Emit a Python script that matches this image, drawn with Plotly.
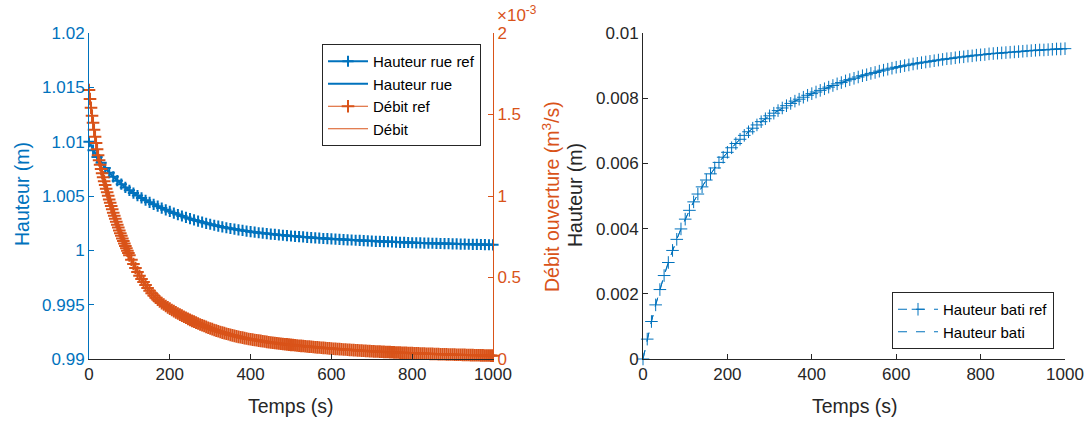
import plotly.graph_objects as go

# ---------------- data ----------------
temps = list(range(0, 1001, 10))  # s

hauteur_rue = [
    1.01000, 1.00922, 1.00860, 1.00806, 1.00758, 1.00715, 1.00676, 1.00641, 1.00609, 1.00579,
    1.00552, 1.00527, 1.00504, 1.00482, 1.00461, 1.00442, 1.00423, 1.00406, 1.00389, 1.00373,
    1.00358, 1.00343, 1.00329, 1.00316, 1.00303, 1.00291, 1.00280, 1.00269, 1.00259, 1.00249,
    1.00240, 1.00231, 1.00223, 1.00215, 1.00208, 1.00201, 1.00195, 1.00189, 1.00183, 1.00177,
    1.00172, 1.00167, 1.00162, 1.00158, 1.00154, 1.00150, 1.00146, 1.00142, 1.00139, 1.00135,
    1.00132, 1.00129, 1.00126, 1.00123, 1.00120, 1.00117, 1.00114, 1.00112, 1.00109, 1.00107,
    1.00105, 1.00103, 1.00101, 1.00099, 1.00097, 1.00095, 1.00093, 1.00091, 1.00089, 1.00087,
    1.00085, 1.00083, 1.00082, 1.00080, 1.00079, 1.00077, 1.00076, 1.00074, 1.00073, 1.00072,
    1.00070, 1.00069, 1.00068, 1.00067, 1.00066, 1.00065, 1.00064, 1.00063, 1.00062, 1.00061,
    1.00060, 1.00059, 1.00058, 1.00057, 1.00056, 1.000555, 1.000545, 1.000535, 1.000525, 1.000515,
    1.000505,
]

hauteur_bati = [
    0.00000, 0.00061, 0.00115, 0.00166, 0.00213, 0.00256, 0.00296, 0.00333, 0.00367, 0.00399,
    0.00429, 0.00456, 0.00482, 0.00506, 0.00528, 0.00549, 0.00568, 0.00586, 0.00603, 0.00619,
    0.00634, 0.00648, 0.00661, 0.00674, 0.00686, 0.00697, 0.00708, 0.00718, 0.00728, 0.00737,
    0.00746, 0.00754, 0.00762, 0.00770, 0.00777, 0.00784, 0.00791, 0.00797, 0.00803, 0.00809,
    0.00814, 0.00819, 0.00824, 0.00829, 0.00834, 0.00839, 0.00844, 0.00848, 0.00853, 0.00857,
    0.00861, 0.00865, 0.00869, 0.00872, 0.00876, 0.00879, 0.00883, 0.00886, 0.00889, 0.00892,
    0.00895, 0.00897, 0.00900, 0.00902, 0.00905, 0.00907, 0.00909, 0.00911, 0.00913, 0.00915,
    0.00917, 0.00919, 0.00921, 0.00922, 0.00924, 0.00926, 0.00927, 0.00929, 0.00930, 0.00932,
    0.00933, 0.00934, 0.00936, 0.00937, 0.00938, 0.00939, 0.00940, 0.00941, 0.00942, 0.00943,
    0.00944, 0.00945, 0.00946, 0.00947, 0.00948, 0.00948, 0.00949, 0.00950, 0.00951, 0.00951,
    0.00952,
]

# debit sampled every 2.5 s up to 97.5 s, then every 5 s
temps_debit = [2.5 * i for i in range(40)] + [100 + 5 * i for i in range(181)]
debit_e3 = [  # x 1e-3 m3/s
    1.650, 1.595, 1.541, 1.493, 1.449, 1.406, 1.364, 1.325, 1.287, 1.250,
    1.219, 1.191, 1.165, 1.140, 1.115, 1.091, 1.068, 1.045, 1.023, 1.001,
    0.979, 0.958, 0.938, 0.918, 0.898, 0.879, 0.860, 0.842, 0.824, 0.806,
    0.789, 0.772, 0.756, 0.740, 0.724, 0.708, 0.693, 0.679, 0.664, 0.650,
    0.636, 0.609, 0.583, 0.558, 0.534, 0.511, 0.491, 0.472, 0.454, 0.436,
    0.419, 0.403, 0.389, 0.376, 0.364, 0.353, 0.343, 0.334, 0.325, 0.317,
    0.309, 0.301, 0.294, 0.286, 0.279, 0.272, 0.266, 0.259, 0.253, 0.246,
    0.240, 0.234, 0.229, 0.223, 0.218, 0.212, 0.207, 0.202, 0.197, 0.192,
    0.187, 0.183, 0.178, 0.174, 0.170, 0.166, 0.162, 0.159, 0.155, 0.152,
    0.148, 0.145, 0.142, 0.139, 0.136, 0.133, 0.131, 0.128, 0.126, 0.123,
    0.121, 0.119, 0.117, 0.115, 0.113, 0.111, 0.109, 0.107, 0.105, 0.103,
    0.101, 0.0995, 0.098, 0.0965, 0.095, 0.0936, 0.0922, 0.0908, 0.0895, 0.0881,
    0.0868, 0.0855, 0.0842, 0.0830, 0.0817, 0.0805, 0.0793, 0.0781, 0.0769, 0.0758,
    0.0747, 0.0736, 0.0725, 0.0714, 0.0703, 0.0693, 0.0682, 0.0672, 0.0662, 0.0652,
    0.0643, 0.0633, 0.0624, 0.0614, 0.0605, 0.0596, 0.0587, 0.0579, 0.0570, 0.0562,
    0.0553, 0.0545, 0.0537, 0.0529, 0.0521, 0.0513, 0.0506, 0.0498, 0.0491, 0.0483,
    0.0476, 0.0469, 0.0463, 0.0456, 0.0450, 0.0443, 0.0437, 0.0431, 0.0425, 0.0419,
    0.0413, 0.0407, 0.0402, 0.0396, 0.0391, 0.0385, 0.0380, 0.0375, 0.0369, 0.0364,
    0.0359, 0.0354, 0.0349, 0.0344, 0.0340, 0.0335, 0.0330, 0.0326, 0.0321, 0.0317,
    0.0312, 0.0308, 0.0304, 0.0299, 0.0295, 0.0291, 0.0287, 0.0283, 0.0279, 0.0275,
    0.0272, 0.0268, 0.0264, 0.0260, 0.0257, 0.0253, 0.0250, 0.0246, 0.0243, 0.0240,
    0.0236, 0.0233, 0.0230, 0.0227, 0.0223, 0.0220, 0.0217, 0.0214, 0.0211, 0.0208,
    0.0205,
]

x_ticks = [0, 200, 400, 600, 800, 1000]
y1_ticks = [0.99, 0.995, 1.0, 1.005, 1.01, 1.015, 1.02]
y1_labels = ["0.99", "0.995", "1", "1.005", "1.01", "1.015", "1.02"]
y2_ticks = [0, 0.5, 1, 1.5, 2]
y2_labels = ["0", "0.5", "1", "1.5", "2"]
y3_ticks = [0, 0.002, 0.004, 0.006, 0.008, 0.01]
y3_labels = ["0", "0.002", "0.004", "0.006", "0.008", "0.01"]

# ---------------- style ----------------
W, H = 1089, 421
BLUE = "#0072BD"
RED = "#D95319"
DARK = "#262626"
FONT = "Liberation Sans, Arial, sans-serif"

def fx(p):
    return p / W

def fy(p):
    return 1 - p / H

fig = go.Figure()

fig.add_trace(go.Scatter(
    x=temps, y=hauteur_rue, name="Hauteur rue ref", mode="lines+markers",
    line=dict(color=BLUE, width=2),
    marker=dict(symbol="cross-thin", size=8, line=dict(color=BLUE, width=2)),
    xaxis="x", yaxis="y", legend="legend", cliponaxis=False))
fig.add_trace(go.Scatter(
    x=temps, y=hauteur_rue, name="Hauteur rue", mode="lines",
    line=dict(color=BLUE, width=2),
    xaxis="x", yaxis="y", legend="legend", cliponaxis=False))
fig.add_trace(go.Scatter(
    x=temps_debit, y=debit_e3, name="Débit ref", mode="lines+markers",
    line=dict(color=RED, width=1),
    marker=dict(symbol="cross-thin", size=9, line=dict(color=RED, width=2)),
    xaxis="x", yaxis="y2", legend="legend", cliponaxis=False))
fig.add_trace(go.Scatter(
    x=temps_debit, y=debit_e3, name="Débit", mode="lines",
    line=dict(color=RED, width=1),
    xaxis="x", yaxis="y2", legend="legend", cliponaxis=False))

fig.add_trace(go.Scatter(
    x=temps, y=hauteur_bati, name="Hauteur bati ref", mode="lines+markers",
    line=dict(color=BLUE, width=1, dash="dash"),
    marker=dict(symbol="cross-thin", size=9, line=dict(color=BLUE, width=1)),
    xaxis="x2", yaxis="y3", legend="legend2", cliponaxis=False))
fig.add_trace(go.Scatter(
    x=temps, y=hauteur_bati, name="Hauteur bati", mode="lines",
    line=dict(color=BLUE, width=1, dash="dash"),
    xaxis="x2", yaxis="y3", legend="legend2", cliponaxis=False))

ydom = [fy(359), fy(33)]
common = dict(showgrid=False, zeroline=False, showline=True, linewidth=1,
              ticks="inside", ticklen=5, tickwidth=1, automargin=False)

fig.update_layout(
    width=W, height=H, autosize=False,
    margin=dict(l=0, r=0, t=0, b=0, pad=0),
    paper_bgcolor="white", plot_bgcolor="white",
    font=dict(family=FONT, size=17, color=DARK),
    xaxis=dict(domain=[fx(89), fx(493)], range=[0, 1000], anchor="y",
               tickvals=x_ticks, linecolor=DARK, tickcolor=DARK,
               tickfont=dict(size=17, color=DARK), **common),
    yaxis=dict(domain=ydom, range=[0.99, 1.02], anchor="x",
               tickvals=y1_ticks, ticktext=y1_labels,
               linecolor=BLUE, tickcolor=BLUE,
               tickfont=dict(size=17, color=BLUE), **common),
    yaxis2=dict(range=[0, 2], overlaying="y", side="right", anchor="x",
                tickvals=y2_ticks, ticktext=y2_labels,
                linecolor=RED, tickcolor=RED,
                tickfont=dict(size=17, color=RED), **common),
    xaxis2=dict(domain=[fx(643), fx(1065)], range=[0, 1000], anchor="y3",
                tickvals=x_ticks, linecolor=DARK, tickcolor=DARK,
                tickfont=dict(size=17, color=DARK), **common),
    yaxis3=dict(domain=ydom, range=[0, 0.01], anchor="x2",
                tickvals=y3_ticks, ticktext=y3_labels,
                linecolor=DARK, tickcolor=DARK,
                tickfont=dict(size=17, color=DARK), **common),
    legend=dict(x=fx(322), y=fy(44), xanchor="left", yanchor="top",
                bgcolor="white", bordercolor=DARK, borderwidth=1,
                font=dict(size=15, color="#000000", family=FONT),
                tracegroupgap=0, itemwidth=40),
    legend2=dict(x=fx(1054), y=fy(349), xanchor="right", yanchor="bottom",
                 bgcolor="white", bordercolor=DARK, borderwidth=1,
                 font=dict(size=15, color="#000000", family=FONT),
                 tracegroupgap=0, itemwidth=40),
    showlegend=True,
)

ann = []
ann.append(dict(text="Hauteur (m)", x=fx(22), y=fy(194), xref="paper", yref="paper",
                textangle=-90, showarrow=False, font=dict(size=19.5, color=BLUE),
                xanchor="center", yanchor="middle"))
ann.append(dict(text="Débit ouverture (m<sup>3</sup>/s)", x=fx(551), y=fy(197),
                xref="paper", yref="paper", textangle=-90, showarrow=False,
                font=dict(size=19.5, color=RED), xanchor="center", yanchor="middle"))
ann.append(dict(text="Hauteur (m)", x=fx(575), y=fy(195), xref="paper", yref="paper",
                textangle=-90, showarrow=False, font=dict(size=19.5, color=DARK),
                xanchor="center", yanchor="middle"))
ann.append(dict(text="Temps (s)", x=fx(291), y=fy(406), xref="paper", yref="paper",
                showarrow=False, font=dict(size=19.5, color=DARK),
                xanchor="center", yanchor="middle"))
ann.append(dict(text="Temps (s)", x=fx(855), y=fy(406), xref="paper", yref="paper",
                showarrow=False, font=dict(size=19.5, color=DARK),
                xanchor="center", yanchor="middle"))
ann.append(dict(text="×10<sup>-3</sup>", x=fx(495), y=fy(14), xref="paper", yref="paper",
                showarrow=False, font=dict(size=17, color=RED),
                xanchor="left", yanchor="middle"))
fig.update_layout(annotations=ann)

fig.write_html(
    "out.html",
    config={"displayModeBar": False},
    post_script="document.body.style.margin='0px';document.body.style.padding='0px';"
                "document.body.style.overflow='hidden';",
)
